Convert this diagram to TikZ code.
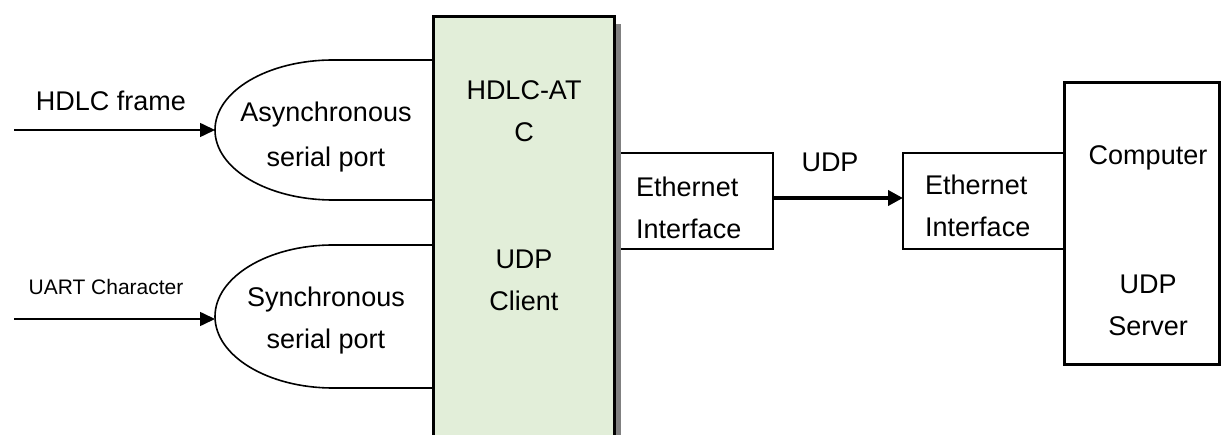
\documentclass[tikz,border=0pt]{standalone}
\usepackage{fontspec}
\setmainfont{Liberation Sans}
\usetikzlibrary{arrows.meta}
\definecolor{boxgreen}{RGB}{226,238,217}
\definecolor{shadowgray}{RGB}{128,128,128}
\tikzset{
  thinline/.style={line width=1.6pt, draw=black},
  inarrow/.style={line width=1.6pt, -{Triangle[length=15pt,width=14pt]}},
  bigarrow/.style={line width=4pt, -{Triangle[length=15pt,width=15pt]}},
  lbl/.style={inner sep=0pt, font=\fontsize{27}{42}\selectfont, align=center},
  lblleft/.style={inner sep=0pt, font=\fontsize{27}{42}\selectfont, align=left},
  smalllbl/.style={inner sep=0pt, font=\fontsize{21}{25}\selectfont},
}
\begin{document}
\begin{tikzpicture}[x=1pt,y=-1pt]
\useasboundingbox (0,0) rectangle (1223,435);
\fill[white] (0,0) rectangle (1223,435);

% left Ethernet interface box (left side hidden by main box)
\draw[line width=2pt] (614,153) -- (773,153) -- (773,249) -- (614,249);
\coordinate (ethLout) at (773,198);

% shadow + main box
\fill[shadowgray] (621,24) rectangle (440,445);
\draw[line width=3pt, fill=boxgreen] (433,17) rectangle (614,445);
\node[lbl] (hdlcat) at (524,111) {HDLC-AT\\C};
\node[lbl] (udpclient) at (524,280) {UDP\\Client};

% asynchronous port (D shape)
\draw[thinline] (433,60) -- (333,60) .. controls (268,60) and (215,91) .. (215,130)
  .. controls (215,169) and (268,200) .. (333,200) -- (433,200);
\coordinate (asyncL) at (215,130);
\node[lbl, font=\fontsize{27}{45}\selectfont] (async) at (326,137) {Asynchronous\\serial port};

% synchronous port (D shape)
\draw[thinline] (433,245) -- (333,245) .. controls (268,245) and (215,277) .. (215,316.5)
  .. controls (215,356) and (268,388) .. (333,388) -- (433,388);
\coordinate (syncL) at (215,316.5);
\node[lbl, font=\fontsize{27}{42}\selectfont] (sync) at (326,321) {Synchronous\\serial port};

% inputs
\coordinate (hdlcin) at (14,130);
\coordinate (uartin) at (14,319);
\draw[inarrow] (hdlcin) -- (asyncL);
\draw[inarrow] (uartin) -- (syncL |- uartin);
\node[lbl] (hdlcframe) at (111,101) {HDLC frame};
\node[smalllbl] (uart) at (106,287) {UART Character};

% left Ethernet text
\node[lblleft, anchor=west] (ethL) at (636,208) {Ethernet\\Interface};

% right Ethernet box + computer
\draw[line width=2pt] (903,153) rectangle (1064,249);
\coordinate (ethRin) at (903,198);
\node[lblleft, anchor=west] (ethR) at (925,206) {Ethernet\\Interface};
\draw[line width=3pt] (1064,83) rectangle (1219,365);
\node[lbl] (computer) at (1148,158) {Computer};
\node[lbl] (udpserver) at (1148,305) {UDP\\Server};

% UDP arrow
\draw[bigarrow] (ethLout) -- (ethRin);
\node[lbl] (udp) at (830,162) {UDP};
\end{tikzpicture}
\end{document}
